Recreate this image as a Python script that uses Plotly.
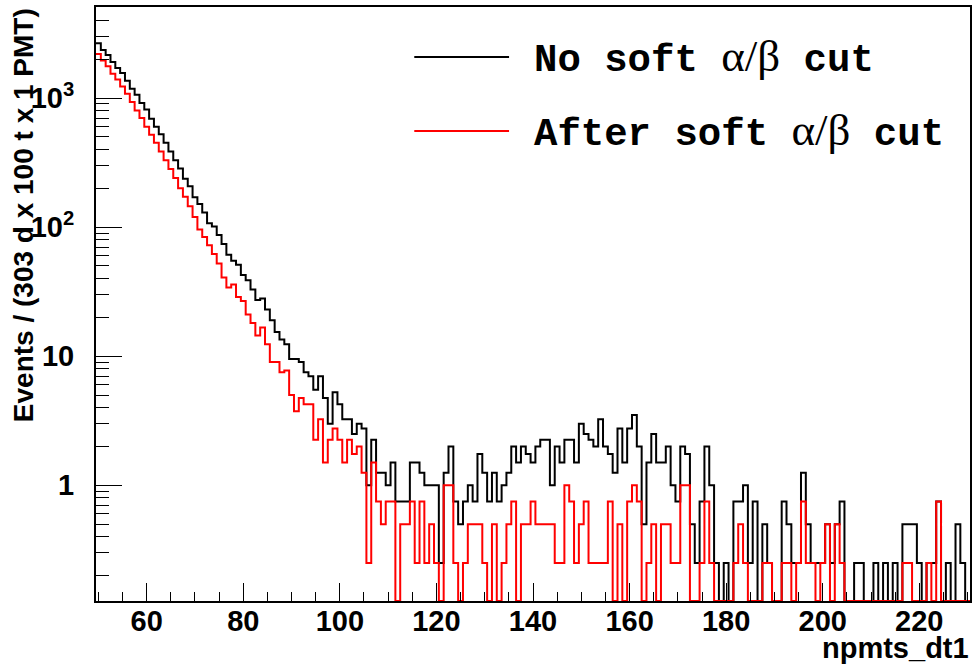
import numpy as np
import plotly.graph_objects as go

# ---------------- data ----------------
bin_centers = list(range(50, 231))          # npmts_dt1, 1-wide bins centred on integers

no_cut = [  # "No soft alpha/beta cut"
    2650, 2350, 2150, 1900, 1710, 1560, 1360, 1180, 1060, 915,
    815, 690, 600, 525, 450, 385, 330, 285, 237, 207,
    170, 151, 130, 107, 101, 87, 74, 61, 55, 51,
    42.5, 38.8, 32.9, 27.2, 28, 23, 19, 15.4, 13.5, 12.4,
    9.5, 9.5, 9.0, 7.5, 7.0, 5.5, 7.0, 4.75, 3.0, 5.25,
    4.25, 3.25, 3.25, 2.5, 3.0, 2.75, 1.0, 2.25, 1.25, 1.25,
    1.0, 1.5, 0.75, 0.75, 0.75, 1.5, 1.5, 1.25, 1.0, 1.0,
    1.0, 0.25, 1.25, 2.0, 0.75, 0.5, 0.75, 1.0, 0.75, 1.75,
    1.25, 0.75, 1.25, 0.75, 1.0, 1.25, 2.0, 1.5, 2.0, 1.75,
    1.5, 2.0, 2.25, 2.25, 1.0, 2.0, 1.5, 2.25, 2.25, 1.5,
    3.0, 2.5, 2.25, 2.0, 3.25, 2.0, 1.75, 1.25, 2.75, 1.5,
    2.75, 3.5, 2.0, 0.5, 1.5, 2.5, 1.5, 1.5, 2.0, 1.0,
    0.75, 2.0, 1.75, 0.5, 0.25, 0.75, 2.0, 1.0, 0.25, 0,
    0.25, 0, 0.75, 0.75, 1.0, 0.25, 0.75, 0, 0.5, 0.25,
    0, 0, 0.75, 0.5, 0.25, 0.25, 1.25, 0.5, 0.25, 0.25,
    0.25, 0.5, 0.25, 0.5, 0.75, 0, 0, 0.25, 0.25, 0,
    0, 0.25, 0, 0.25, 0, 0.25, 0, 0.5, 0.5, 0.5,
    0.25, 0, 0.25, 0.25, 0.75, 0, 0.25, 0, 0.5, 0.25,
    0,
]

after_cut = [  # "After soft alpha/beta cut"
    2190, 1950, 1760, 1540, 1390, 1230, 1080, 930, 800, 700,
    600, 520, 450, 385, 330, 282, 240, 200, 172, 145,
    120, 96, 84, 72.5, 61.8, 52.3, 40.7, 34, 36, 28.8,
    26.8, 21, 18.1, 14.5, 16.7, 12.4, 9.0, 9.0, 7.5, 7.75,
    5.0, 3.75, 4.75, 4.25, 4.25, 2.25, 3.25, 1.5, 2.25, 2.75,
    2.25, 1.5, 2.25, 1.75, 2.0, 1.25, 0.25, 1.5, 0.75, 0.5,
    0.75, 0.75, 0, 0.5, 0.5, 0.75, 0.25, 0.75, 0.25, 0.5,
    0.25, 0, 1.0, 1.0, 0.25, 0, 0.25, 0.5, 0.5, 0.5,
    0.25, 0, 0.5, 0, 0.25, 0.5, 0.75, 0, 0.5, 0.5,
    0.75, 0.5, 0.5, 0.5, 0.5, 0.25, 0.25, 1.0, 0.75, 0.25,
    0.5, 0.75, 0.25, 0.25, 0.25, 0.25, 0.75, 0, 0.5, 0,
    0.75, 1.0, 0.75, 0, 0.25, 0.5, 0, 0.5, 0.5, 0.25,
    0.25, 1.0, 1.0, 0, 0, 0.25, 0.75, 0.25, 0, 0,
    0, 0, 0.25, 0.5, 0.25, 0, 0, 0, 0.25, 0.25,
    0, 0, 0.25, 0.25, 0, 0.25, 0.75, 0.25, 0.25, 0,
    0.25, 0.5, 0, 0.5, 0.25, 0, 0, 0, 0, 0,
    0, 0, 0, 0, 0, 0, 0, 0.25, 0.25, 0,
    0, 0, 0.25, 0, 0.75, 0, 0, 0, 0, 0,
    0,
]

series_names = ["No soft", "After soft"]
series_colors = ["#000000", "#ff0000"]

x_title = "npmts_dt1"
y_title = "Events / (303 d x 100 t x 1 PMT)"
y_major_vals = [1, 10, 100, 1000]
y_major_text = ["1", "10", "10<sup>2</sup>", "10<sup>3</sup>"]

# ---------------- axis ranges ----------------
X_MIN, X_MAX = bin_centers[0] - 0.5, bin_centers[-1] + 0.5
Y_MIN, Y_MAX = 0.127, 5070.0

SANS = "Liberation Sans, Arial, Helvetica, sans-serif"
MONO = "Courier New, Nimbus Mono PS, FreeMono, Liberation Mono, monospace"
SERIF = "Liberation Serif, Times New Roman, serif"

edges = [c - 0.5 for c in bin_centers] + [bin_centers[-1] + 0.5]


def step_y(vals):
    # empty bins are drawn on the bottom of the frame, like ROOT does
    v = [x if x > 0 else Y_MIN for x in vals]
    return v + [v[-1]]


fig = go.Figure()
for vals, name, col in [(no_cut, series_names[0], series_colors[0]),
                        (after_cut, series_names[1], series_colors[1])]:
    fig.add_trace(go.Scatter(
        x=edges, y=step_y(vals), mode="lines", name=name,
        line=dict(color=col, width=2, shape="hv"),
        hoverinfo="skip", showlegend=False,
    ))

# minor ticks of the log axis (2..9 in every decade)
y_minor_vals = [m * 10.0 ** d for d in range(-1, 4) for m in range(2, 10)
                if Y_MIN <= m * 10.0 ** d <= Y_MAX]

fig.update_layout(
    width=976, height=666,
    margin=dict(l=96, r=4, t=7, b=65),
    paper_bgcolor="white", plot_bgcolor="white",
    showlegend=False,
    xaxis=dict(
        range=[X_MIN, X_MAX], showgrid=False, zeroline=False,
        showline=True, linecolor="black", linewidth=2, mirror=True,
        ticks="inside", ticklen=18, tickwidth=1, tickcolor="black",
        tick0=0, dtick=20,
        minor=dict(ticks="inside", ticklen=9, tickwidth=1, tickcolor="black",
                   tick0=0, dtick=5, showgrid=False),
        tickfont=dict(family=SANS, size=29, color="black", weight="bold"),
        ticklabelstandoff=-7,
    ),
    yaxis=dict(
        type="log", range=[np.log10(Y_MIN), np.log10(Y_MAX)],
        showgrid=False, zeroline=False,
        showline=True, linecolor="black", linewidth=2, mirror=True,
        tickvals=y_major_vals, ticktext=y_major_text,
        ticks="inside", ticklen=26, tickwidth=1, tickcolor="black",
        minor=dict(tickvals=y_minor_vals, ticks="inside", ticklen=13,
                   tickwidth=1, tickcolor="black", showgrid=False),
        tickfont=dict(family=SANS, size=29, color="black", weight="bold"),
        ticklabelstandoff=14,
    ),
)

# axis titles (ROOT style: y title flush with top, x title flush right)
PW, PH = 976 - 96 - 4, 666 - 7 - 65


def px2paper(px, py):
    return (px - 96) / PW, (666 - 65 - py) / PH


tx, ty = px2paper(24, 215)
fig.add_annotation(text=y_title, xref="paper", yref="paper", x=tx, y=ty,
                   textangle=-90, showarrow=False, xanchor="center", yanchor="middle",
                   font=dict(family=SANS, size=28, color="black", weight="bold"))
tx, ty = px2paper(973, 648)
fig.add_annotation(text=x_title, xref="paper", yref="paper", x=tx, y=ty,
                   showarrow=False, xanchor="right", yanchor="middle",
                   font=dict(family=SANS, size=29, color="black", weight="bold"))

# legend (drawn like the ROOT TLegend: long line sample + Courier text)
legend_rows = [57, 131]
for name, col, row in zip(series_names, series_colors, legend_rows):
    x0, yy = px2paper(415, row)
    x1, _ = px2paper(510, row)
    fig.add_shape(type="line", xref="paper", yref="paper", x0=x0, x1=x1, y0=yy, y1=yy,
                  line=dict(color=col, width=2))
    lx, _ = px2paper(533, row)
    label = (f"<b>{name} </b><span style='font-family:{SERIF}; font-size:45px; "
             f"font-weight:normal'>α/β</span><b> cut</b>")
    fig.add_annotation(text=label, xref="paper", yref="paper", x=lx, y=yy,
                       showarrow=False, xanchor="left", yanchor="middle",
                       font=dict(family=MONO, size=39, color="black"))

fig.write_html("out.html")
